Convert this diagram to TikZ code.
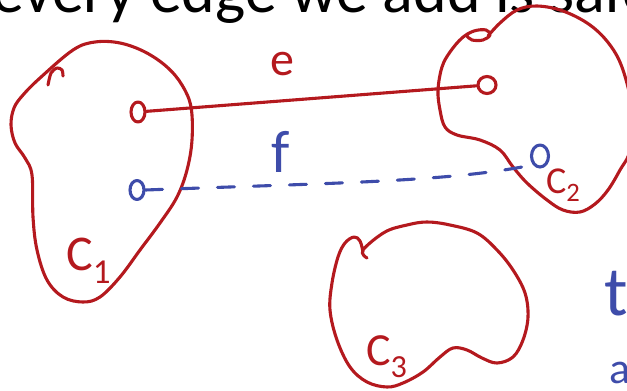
\documentclass[tikz,border=0pt]{standalone}
\usepackage{fontspec}
\setmainfont{Carlito}
\usetikzlibrary{shapes.geometric}
\definecolor{inkred}{RGB}{180,25,30}
\definecolor{inkblue}{RGB}{62,76,170}
\tikzset{
  ink/.style={line width=3.1pt, line cap=round, line join=round},
  vtx/.style={draw, ellipse, inner sep=0pt, ink},
  lbl/.style={inner sep=0pt, anchor=base west},
}
\begin{document}
\begin{tikzpicture}[x=1pt,y=-1pt]
\useasboundingbox (0,0) rectangle (627,391);
\clip (0,0) rectangle (627,391);
\node[lbl] (title) at (-8,12) {\fontsize{64}{70}\selectfont every edge we add is safe};
% components
\draw[inkred, ink] plot[smooth cycle, tension=0.6] coordinates {(73,50) (95,42) (120,43) (145,52) (167,67) (182,85) (191,107) (192,140) (187,170) (177,197) (160,223) (140,250) (120,277) (100,297) (83,302) (63,297) (47,280) (37,250) (33,217) (32,175) (25,158) (15,143) (11,125) (14,108) (23,95) (40,78)};
\draw[inkred, ink] plot[smooth] coordinates {(48,85) (51,73) (57,68) (62,70) (63,76)};
\draw[inkred, ink] plot[smooth, tension=0.6] coordinates {(488,36) (500,23) (517,10) (537,6) (563,11) (590,25) (610,45) (623,70) (632,110) (630,150) (620,170) (608,190) (595,204) (580,212) (563,210) (547,200) (527,183) (513,167) (500,150) (480,140) (457,135) (445,127) (440,110) (438,90) (442,67) (450,52) (462,38) (474,31) (486,30) (490,35) (483,40) (472,40) (467,36)};
\draw[inkred, ink] plot[smooth, tension=0.6] coordinates {(367,258) (363,250) (385,232) (407,225) (427,222) (450,225) (477,233) (497,250) (513,270) (525,293) (528,317) (523,340) (513,357) (497,363) (482,358) (467,350) (453,348) (440,357) (423,372) (403,383) (387,387) (367,382) (350,367) (337,340) (330,310) (332,283) (338,257) (345,243) (354,237) (360,241) (363,252)};
\node[lbl, inkred] (c1) at (66,270) {\fontsize{50}{50}\selectfont C\textsubscript{1}};
\node[lbl, inkred] (c2) at (546,193) {\fontsize{38}{38}\selectfont C\textsubscript{2}};
\node[lbl, inkred] (c3) at (366,365) {\fontsize{46}{46}\selectfont C\textsubscript{3}};
% vertices and edges
\node[vtx, inkred, minimum width=14pt, minimum height=20pt] (u1) at (138,112) {};
\node[vtx, inkred, minimum width=18pt, minimum height=17pt] (v1) at (487,85) {};
\node[vtx, inkblue, minimum width=14pt, minimum height=19pt] (u2) at (137,190) {};
\node[vtx, inkblue, minimum width=17pt, minimum height=22pt] (v2) at (540,156) {};
\draw[inkred, ink] (u1) -- (v1);
\draw[inkblue, ink, dash pattern=on 17pt off 19pt] (u2.east) .. controls (330,183) and (450,182) .. (v2.south west);
\node[inkred, inner sep=0pt, anchor=base] (e) at (282,75) {\fontsize{48}{48}\selectfont e};
\node[inkblue, inner sep=0pt, anchor=base] (f) at (281,172) {\fontsize{60}{60}\selectfont f};
% notes cut off at the right
\node[lbl, inkblue] (th) at (604,315) {\fontsize{70}{70}\selectfont th};
\node[lbl, inkblue] (a) at (609,383) {\fontsize{44}{44}\selectfont a};
\end{tikzpicture}
\end{document}
